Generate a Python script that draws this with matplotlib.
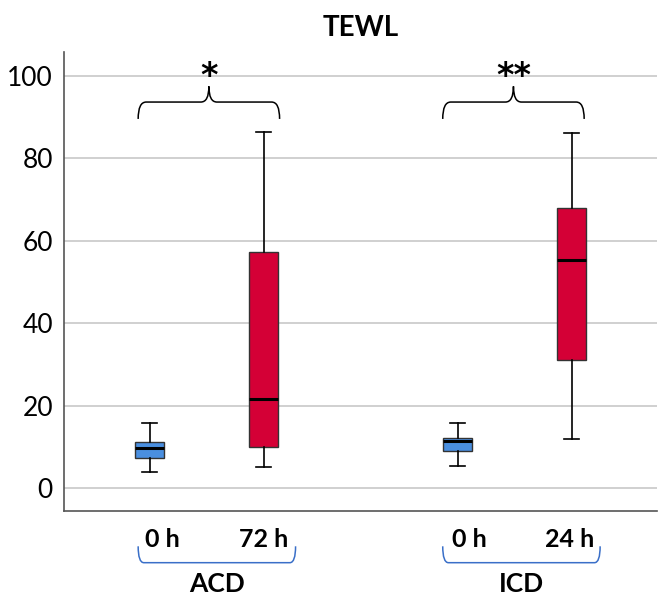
import matplotlib
matplotlib.use("Agg")
import matplotlib.pyplot as plt
from matplotlib.path import Path
from matplotlib.patches import PathPatch
import matplotlib.transforms as mtransforms

plt.rcParams['font.family'] = ['Lato', 'DejaVu Sans']

# box statistics
labels = ["0 h", "72 h", "0 h", "24 h"]
positions = [1, 2, 3.7, 4.7]
label_pos = [1.11, 2.0, 3.8, 4.68]
whislo = [3.9, 5.1, 5.3, 11.9]
q1 = [7.3, 10.0, 9.0, 31.1]
med = [9.7, 21.6, 11.4, 55.3]
q3 = [11.2, 57.3, 12.1, 68.0]
whishi = [15.8, 86.4, 15.8, 86.2]
colors = ["#4a8fe0", "#d40036", "#4a8fe0", "#d40036"]

groups = ["ACD", "ICD"]
group_spans = [(0.9, 2.28), (3.57, 4.95)]
sig_marks = ["*", "**"]
sig_spans = [(0.9, 2.14), (3.57, 4.81)]

fig = plt.figure(figsize=(6.71, 6.07), dpi=100)
ax = fig.add_axes([0.0954, 0.158, 0.884, 0.756])

stats = []
for i in range(len(labels)):
    stats.append(dict(whislo=whislo[i], q1=q1[i], med=med[i], q3=q3[i],
                      whishi=whishi[i], fliers=[], label=labels[i]))

bp = ax.bxp(stats, positions=positions, widths=0.25, patch_artist=True,
            showfliers=False, manage_ticks=False,
            boxprops=dict(edgecolor="#333333", linewidth=1.0),
            medianprops=dict(color="black", linewidth=2.2),
            whiskerprops=dict(color="black", linewidth=1.2),
            capprops=dict(color="black", linewidth=1.2),
            capwidths=0.13, zorder=3)
for patch, c in zip(bp["boxes"], colors):
    patch.set_facecolor(c)

ax.set_xlim(0.25, 5.45)
ax.set_ylim(-5.6, 105.8)
ax.set_xticks(label_pos)
ax.set_xticklabels(labels, fontweight="bold")
ax.set_yticks([0, 20, 40, 60, 80, 100])
ax.yaxis.grid(True, color="#c8c8c8", linewidth=1.2, zorder=0)
ax.set_axisbelow(True)
ax.tick_params(axis="y", length=0, pad=8, labelsize=19)
ax.tick_params(axis="x", length=0, pad=12, labelsize=18)
for s in ["top", "right"]:
    ax.spines[s].set_visible(False)
for s in ["left", "bottom"]:
    ax.spines[s].set_color("#555555")
    ax.spines[s].set_linewidth(1.2)

ax.set_title("TEWL", fontsize=20, fontweight="bold", pad=12)


def curly(x0, x1, y_end, y_mid, y_tip, d):
    xm = (x0 + x1) / 2
    verts = [(x0, y_end), (x0, y_mid), (x0 + d, y_mid),
             (xm - d, y_mid),
             (xm, y_mid), (xm, y_tip),
             (xm, y_mid), (xm + d, y_mid),
             (x1 - d, y_mid),
             (x1, y_mid), (x1, y_end)]
    codes = [Path.MOVETO, Path.CURVE3, Path.CURVE3,
             Path.LINETO,
             Path.CURVE3, Path.CURVE3,
             Path.CURVE3, Path.CURVE3,
             Path.LINETO,
             Path.CURVE3, Path.CURVE3]
    return Path(verts, codes)


# significance braces above the pairs
for (x0, x1), mark in zip(sig_spans, sig_marks):
    p = curly(x0, x1, 89.6, 93.7, 97.5, 0.07)
    ax.add_patch(PathPatch(p, facecolor="none", edgecolor="black",
                           linewidth=1.1, clip_on=False))
    ax.text((x0 + x1) / 2, 96.0, mark, ha="center", va="bottom",
            fontsize=24, fontweight="bold", family="DejaVu Sans")

# group brackets under the axis
trans = mtransforms.blended_transform_factory(ax.transData, fig.transFigure)
for (x0, x1), name in zip(group_spans, groups):
    y0, y1 = 0.100, 0.073
    verts = [(x0, y0), (x0, y1), (x0 + 0.05, y1),
             (x1 - 0.05, y1), (x1, y1), (x1, y0)]
    codes = [Path.MOVETO, Path.CURVE3, Path.CURVE3,
             Path.LINETO, Path.CURVE3, Path.CURVE3]
    ax.add_patch(PathPatch(Path(verts, codes), facecolor="none",
                           edgecolor="#3a6fc8", linewidth=1.1,
                           transform=trans, clip_on=False))
    ax.text((x0 + x1) / 2, 0.038, name, transform=trans, ha="center",
            va="center", fontsize=19, fontweight="bold")

fig.savefig("out.png", dpi=100)
